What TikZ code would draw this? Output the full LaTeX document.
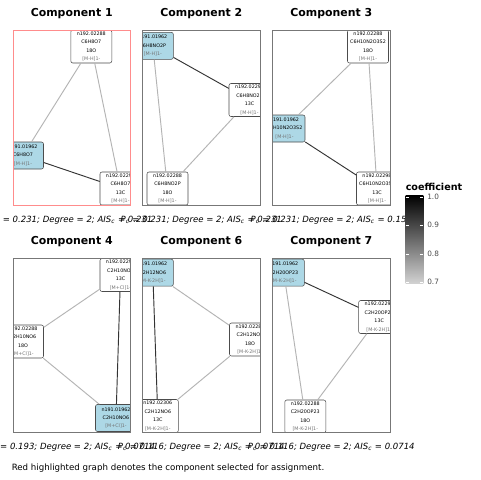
\documentclass[tikz,border=0pt]{standalone}
\usepackage{fontspec}
\setmainfont{DejaVu Sans}
\definecolor{lblue}{HTML}{ADD8E6}
\definecolor{selred}{HTML}{FF8C8C}
\definecolor{edgehi}{HTML}{333333}
\definecolor{edgelo}{HTML}{B4B4B4}
\definecolor{framegray}{HTML}{777777}
\tikzset{
  nd/.style={draw=black!70, rounded corners=1.5pt, line width=0.4pt, fill=white,
    minimum width=30.75pt, inner sep=0.8pt, align=center,
    font=\fontsize{3.6}{6.3}\selectfont},
  nfour/.style={nd, minimum height=24.75pt},
  nthree/.style={nd, fill=lblue, minimum height=20.25pt},
  ehi/.style={draw=edgehi, line width=0.7pt},
  elo/.style={draw=edgelo, line width=0.7pt},
  frame/.style={draw=framegray, line width=0.6pt},
  selframe/.style={draw=selred, line width=0.7pt},
  ttl/.style={font=\bfseries\fontsize{8.2}{9}\selectfont},
  capt/.style={font=\itshape\fontsize{6.4}{7}\selectfont, inner sep=0pt},
  leglab/.style={font=\fontsize{5.5}{6}\selectfont, text=black!70, anchor=west, inner sep=0pt}
}
\newcommand{\addc}[1]{\textcolor{black!55}{#1}}
\begin{document}
\begin{tikzpicture}[x=0.75pt,y=-0.75pt]
\useasboundingbox (0,0) rectangle (480,480);
\clip (0,0) rectangle (480,480);
\fill[white] (0,0) rectangle (480,480);

% ---------- titles ----------
\node[ttl] (t1) at (71.7,14) {Component 1};
\node[ttl] (t2) at (201.3,14) {Component 2};
\node[ttl] (t3) at (331.3,14) {Component 3};
\node[ttl] (t4) at (71.7,242) {Component 4};
\node[ttl] (t6) at (201.3,242) {Component 6};
\node[ttl] (t7) at (331.3,242) {Component 7};

% ---------- panel 1 ----------
\begin{scope}
\clip (13.3,30.7) rectangle (130,205);
\node[nfour] (a) at (91.3,46.5) {n192.02288\\C6H8O7\\18O\\\addc{[M-H]1-}};
\node[nthree] (b) at (23,155.5) {n191.01962\\C6H8O7\\\addc{[M-H]1-}};
\node[nfour] (c) at (120.5,188.5) {n192.02298\\C6H8O7\\13C\\\addc{[M-H]1-}};
\draw[elo] (a) -- (b);
\draw[elo] (a) -- (c);
\draw[ehi] (b) -- (c);
\end{scope}
\draw[selframe] (13.3,30.7) rectangle (130,205);

% ---------- panel 2 ----------
\begin{scope}
\clip (142.7,30.7) rectangle (260,205);
\node[nthree] (d) at (152.8,45.8) {n191.01962\\C6H8NO2P\\\addc{[M-H]1-}};
\node[nfour] (e) at (249.5,100) {n192.02298\\C6H8NO2P\\13C\\\addc{[M-H]1-}};
\node[nfour] (f) at (167.5,188.5) {n192.02288\\C6H8NO2P\\18O\\\addc{[M-H]1-}};
\draw[ehi] (d) -- (e);
\draw[elo] (d) -- (f);
\draw[elo] (e) -- (f);
\end{scope}
\draw[frame] (142.7,30.7) rectangle (260,205);

% ---------- panel 3 ----------
\begin{scope}
\clip (272.7,30.7) rectangle (390,205);
\node[nfour] (g) at (368,46.5) {n192.02288\\C6H10N2O3S2\\18O\\\addc{[M-H]1-}};
\node[nthree] (h) at (284.5,128.5) {n191.01962\\C6H10N2O3S2\\\addc{[M-H]1-}};
\node[nfour] (i) at (377,188.5) {n192.02298\\C6H10N2O3S2\\13C\\\addc{[M-H]1-}};
\draw[elo] (g) -- (h);
\draw[elo] (g) -- (i);
\draw[ehi] (h) -- (i);
\end{scope}
\draw[frame] (272.7,30.7) rectangle (390,205);

% ---------- panel 4 ----------
\begin{scope}
\clip (13.3,258.3) rectangle (130,432);
\node[nfour] (j) at (120.5,275) {n192.02298\\C2H10NO6\\13C\\\addc{[M+Cl]1-}};
\node[nfour] (k) at (23,341.5) {n192.02288\\C2H10NO6\\18O\\\addc{[M+Cl]1-}};
\node[nthree] (l) at (116,418) {n191.01962\\C2H10NO6\\\addc{[M+Cl]1-}};
\draw[elo] (j) -- (k);
\draw[ehi] (j) -- (l);
\draw[elo] (k) -- (l);
\end{scope}
\draw[frame] (13.3,258.3) rectangle (130,432);

% ---------- panel 6 ----------
\begin{scope}
\clip (142.7,258.3) rectangle (260,432);
\node[nthree] (m) at (152.8,272.7) {n191.01962\\C2H12NO6\\\addc{[M-K-2H]1-}};
\node[nfour] (n) at (250,339.5) {n192.02288\\C2H12NO6\\18O\\\addc{[M-K-2H]1-}};
\node[nfour] (o) at (157.8,416) {n192.02306\\C2H12NO6\\13C\\\addc{[M-K-2H]1-}};
\draw[elo] (m) -- (n);
\draw[ehi] (m) -- (o);
\draw[elo] (n) -- (o);
\end{scope}
\draw[frame] (142.7,258.3) rectangle (260,432);

% ---------- panel 7 ----------
\begin{scope}
\clip (272.7,258.3) rectangle (390,432);
\node[nthree] (p) at (283.8,272.7) {n191.01962\\C2H20OP23\\\addc{[M-K-2H]1-}};
\node[nfour] (q) at (379.2,317) {n192.02298\\C2H20OP23\\13C\\\addc{[M-K-2H]1-}};
\node[nfour] (r) at (305.3,416.5) {n192.02288\\C2H20OP23\\18O\\\addc{[M-K-2H]1-}};
\draw[ehi] (p) -- (q);
\draw[elo] (p) -- (r);
\draw[elo] (q) -- (r);
\end{scope}
\draw[frame] (272.7,258.3) rectangle (390,432);

% ---------- captions ----------
\node[capt] (c1) at (71.7,220) {P\textsubscript{c} = 0.231; Degree = 2; AIS\textsubscript{c} = 0.231};
\node[capt] (c2) at (201.3,220) {P\textsubscript{c} = 0.231; Degree = 2; AIS\textsubscript{c} = 0.231};
\node[capt] (c3) at (331.3,220) {P\textsubscript{c} = 0.231; Degree = 2; AIS\textsubscript{c} = 0.154};
\node[capt] (c4) at (71.7,447) {P\textsubscript{c} = 0.193; Degree = 2; AIS\textsubscript{c} = 0.0714};
\node[capt] (c6) at (201.3,447) {P\textsubscript{c} = 0.116; Degree = 2; AIS\textsubscript{c} = 0.0714};
\node[capt] (c7) at (331.3,447) {P\textsubscript{c} = 0.116; Degree = 2; AIS\textsubscript{c} = 0.0714};

% ---------- legend ----------
\node[font=\bfseries\fontsize{7.2}{8}\selectfont, anchor=west, inner sep=0pt] (lt) at (405.5,187) {coefficient};
\shade[top color=black, bottom color=black!18] (405.7,195) rectangle (423.3,283);
\foreach \yy/\lab in {197/1.0,225/0.9,254/0.8,282/0.7}{
  \draw[white, line width=0.5pt] (405.7,\yy) -- (408.7,\yy);
  \draw[white, line width=0.5pt] (420.3,\yy) -- (423.3,\yy);
  \node[leglab] at (427,\yy) {\lab};
}

% ---------- footnote ----------
\node[font=\fontsize{6.5}{7}\selectfont, anchor=west, inner sep=0pt] (fn) at (11.5,468) {Red highlighted graph denotes the component selected for assignment.};
\end{tikzpicture}
\end{document}
